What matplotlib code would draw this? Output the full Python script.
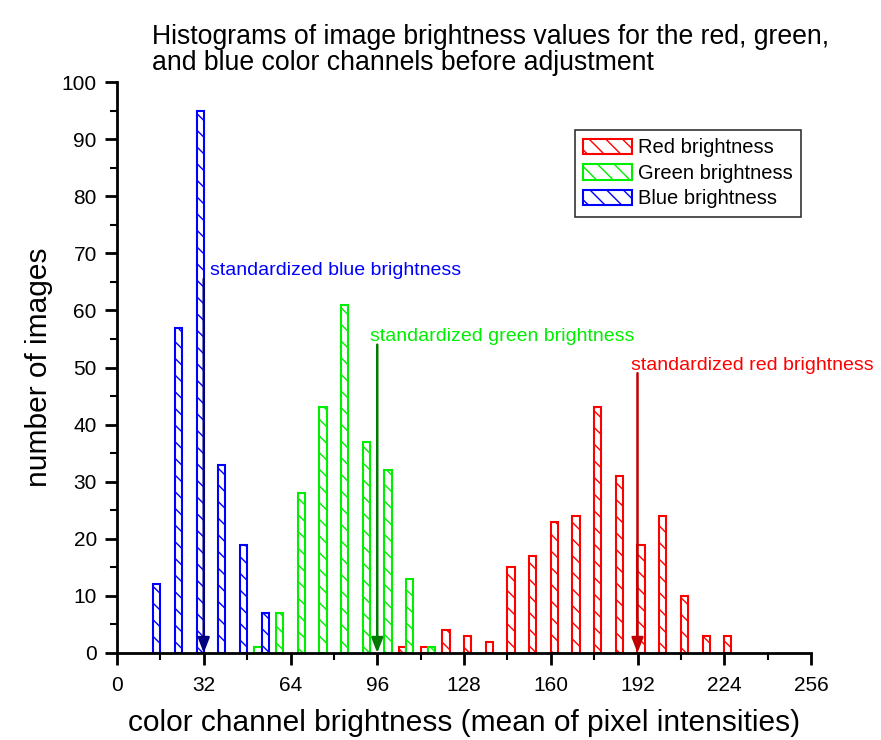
import matplotlib
matplotlib.use("Agg")
import matplotlib.pyplot as plt
import numpy as np

plt.rcParams['font.family'] = ['Liberation Sans', 'DejaVu Sans']
plt.rcParams['hatch.linewidth'] = 1.0

# Data (bar centres in brightness units, counts)
blue_x = [14.67, 22.67, 30.67, 38.67, 46.67, 54.67]
blue_counts = [12, 57, 95, 33, 19, 7]

green_x = [52, 60, 68, 76, 84, 92, 100, 108, 116]
green_counts = [1, 7, 28, 43, 61, 37, 32, 13, 1]

red_x = [105.33, 113.33, 121.33, 129.33, 137.33, 145.33, 153.33, 161.33,
         169.33, 177.33, 185.33, 193.33, 201.33, 209.33, 217.33, 225.33]
red_counts = [1, 1, 4, 3, 2, 15, 17, 23, 24, 43, 31, 19, 24, 10, 3, 3]

standard_values = {'blue': 32, 'green': 96, 'red': 192}

x_ticks = [0, 32, 64, 96, 128, 160, 192, 224, 256]
bar_w = 8 / 3

fig = plt.figure(figsize=(8.81, 7.40), dpi=100)
ax = fig.add_axes([117/881, 1-653/740, (811-117)/881, (653-82)/740])

RED = '#ff0000'
GREEN = '#00ee00'
BLUE = '#0000ff'

ax.bar(red_x, red_counts, width=bar_w, facecolor='white', edgecolor=RED,
       hatch='\\\\', linewidth=1.5, label='Red brightness', zorder=2)
ax.bar(green_x, green_counts, width=bar_w, facecolor='white', edgecolor=GREEN,
       hatch='\\\\', linewidth=1.5, label='Green brightness', zorder=2)
ax.bar(blue_x, blue_counts, width=bar_w, facecolor='white', edgecolor=BLUE,
       hatch='\\\\', linewidth=1.5, label='Blue brightness', zorder=2)

# arrows
arrow_specs = [
    (standard_values['blue'], 65.5, '#000080'),
    (standard_values['green'], 54, '#007a00'),
    (standard_values['red'], 49, '#c00000'),
]
for xv, ytop, col in arrow_specs:
    ax.annotate('', xy=(xv, 0), xytext=(xv, ytop),
                arrowprops=dict(arrowstyle='-|>,head_length=0.9,head_width=0.35',
                                color=col, lw=1.8, shrinkA=0, shrinkB=0),
                zorder=4)

ax.text(34.3, 66.2, 'standardized blue brightness', color=BLUE, fontsize=14, zorder=5)
ax.text(93.5, 54.6, 'standardized green brightness', color=GREEN, fontsize=14, zorder=5)
ax.text(189.5, 49.6, 'standardized red brightness', color=RED, fontsize=14, zorder=5)

ax.set_xlim(0, 256)
ax.set_ylim(0, 100)
ax.set_xticks(x_ticks)
ax.set_xticks(np.arange(16, 256, 32), minor=True)
ax.set_yticks(np.arange(0, 101, 10))
ax.set_yticks(np.arange(5, 100, 10), minor=True)
ax.tick_params(axis='both', which='major', direction='out', length=8.5, width=2,
               labelsize=15)
ax.tick_params(axis='y', which='major', pad=6)
ax.tick_params(axis='x', which='major', pad=8)
ax.tick_params(axis='both', which='minor', direction='out', length=5, width=1.5)
for s in ['top', 'right']:
    ax.spines[s].set_visible(False)
for s in ['left', 'bottom']:
    ax.spines[s].set_linewidth(2)
    ax.spines[s].set_zorder(5)

ax.set_xlabel('color channel brightness (mean of pixel intensities)', fontsize=21.5,
              labelpad=10)
ax.set_ylabel('number of images', fontsize=21.5, labelpad=6)

fig.text(152/881, 1-24/740,
         'Histograms of image brightness values for the red, green,\nand blue color channels before adjustment',
         ha='left', va='top', fontsize=19.2, linespacing=0.98)

leg = ax.legend(loc='upper right', bbox_to_anchor=(801/881, 1-130/740),
                bbox_transform=fig.transFigure, frameon=True, fancybox=False,
                fontsize=14.5, handlelength=2.4, handleheight=0.8,
                borderpad=0.42, labelspacing=0.32, handletextpad=0.3,
                borderaxespad=0)
leg.get_frame().set_edgecolor('black')
leg.get_frame().set_linewidth(1.2)

fig.savefig('out.png', dpi=100)
